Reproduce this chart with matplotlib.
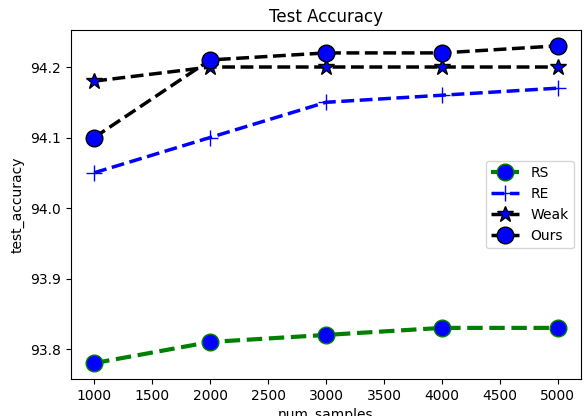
import matplotlib
matplotlib.use('AGG')
import matplotlib.pyplot as plt

# Data
num_samples = [1000, 2000, 3000, 4000, 5000]
rs = [93.78, 93.81, 93.82, 93.83, 93.83]
re = [94.05, 94.10, 94.15, 94.16, 94.17]
weak = [94.18, 94.20, 94.20, 94.20, 94.20]
ours = [94.10, 94.21, 94.22, 94.22, 94.23]

fig = plt.figure(figsize=(5.87, 4.16), dpi=100)
ax = fig.add_axes([71 / 587, 1 - 379 / 416, 510 / 587, 349 / 416])

ax.plot(num_samples, rs, '--', color='green', linewidth=3, marker='o',
        markersize=12, markerfacecolor='blue', markeredgecolor='green', label='RS')
ax.plot(num_samples, re, '--', color='blue', linewidth=2.5, marker='+',
        markersize=12, label='RE')
ax.plot(num_samples, weak, '--', color='black', linewidth=2.5, marker='*',
        markersize=12, markerfacecolor='blue', markeredgecolor='black', label='Weak')
ax.plot(num_samples, ours, '--', color='black', linewidth=2.5, marker='o',
        markersize=12, markerfacecolor='blue', markeredgecolor='black', label='Ours')

ax.set(xlabel='num_samples', ylabel='test_accuracy', title='Test Accuracy')
ax.legend(loc='center right')

fig.savefig('out.png')
